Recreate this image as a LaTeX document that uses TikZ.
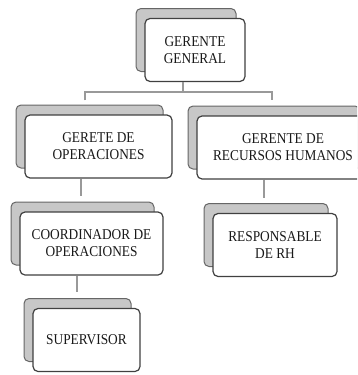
\documentclass[tikz,border=0pt]{standalone}
\usepackage{fontspec}
\setmainfont{Liberation Serif}[FakeStretch=0.89]
\usetikzlibrary{shadows}

\begin{document}
\begin{tikzpicture}[
        x=1pt, y=-1pt,
        font=\fontsize{15}{17}\selectfont,
        box/.style={
            rectangle,
            draw=black!75,
            line width=1.2pt,
            fill=white,
            text=black!90,
            rounded corners=5pt,
            align=center,
            inner sep=0pt,
            minimum height=63pt,
            copy shadow={shadow xshift=-9pt, shadow yshift=10pt,
                fill=black!22, draw=black!60, line width=1pt}
        },
        link/.style={
            draw=black!75,
            line width=0.7pt,
            double=black!40,
            double distance=1.2pt
        }
    ]

    \useasboundingbox (0,0) rectangle (357,375);
    \clip (0,0) rectangle (357,375);

    % ---------- Top: general manager ----------
    \node[box, minimum width=100pt] (ger) at (195,50) {GERENTE\\GENERAL};

    % ---------- Second row ----------
    \node[box, minimum width=147pt] (gop) at (98.5,146.5) {GERETE DE\\OPERACIONES};
    \node[box, minimum width=172pt] (grh) at (283,147.5) {GERENTE DE\\RECURSOS HUMANOS};

    % ---------- Third row ----------
    \node[box, minimum width=143pt] (coo) at (91.5,243.5) {COORDINADOR DE\\OPERACIONES};
    \node[box, minimum width=124pt] (res) at (275,245) {RESPONSABLE\\DE RH};

    % ---------- Fourth row ----------
    \node[box, minimum width=107pt] (sup) at (86.5,340) {SUPERVISOR};

    % connector ends
    \coordinate (busL) at (85,100);
    \coordinate (busM) at (183,92);
    \coordinate (busR) at (272,100);
    \coordinate (stemL) at (81,196);
    \coordinate (stemR) at (264,198);
    \coordinate (stemB) at (77,292);

    \draw[link] (ger.south -| busM) -- (busM);
    \draw[link] (busL) |- (busM) -| (busR);
    \draw[link] (gop.south -| stemL) -- (stemL);
    \draw[link] (grh.south -| stemR) -- (stemR);
    \draw[link] (coo.south -| stemB) -- (stemB);

\end{tikzpicture}
\end{document}
